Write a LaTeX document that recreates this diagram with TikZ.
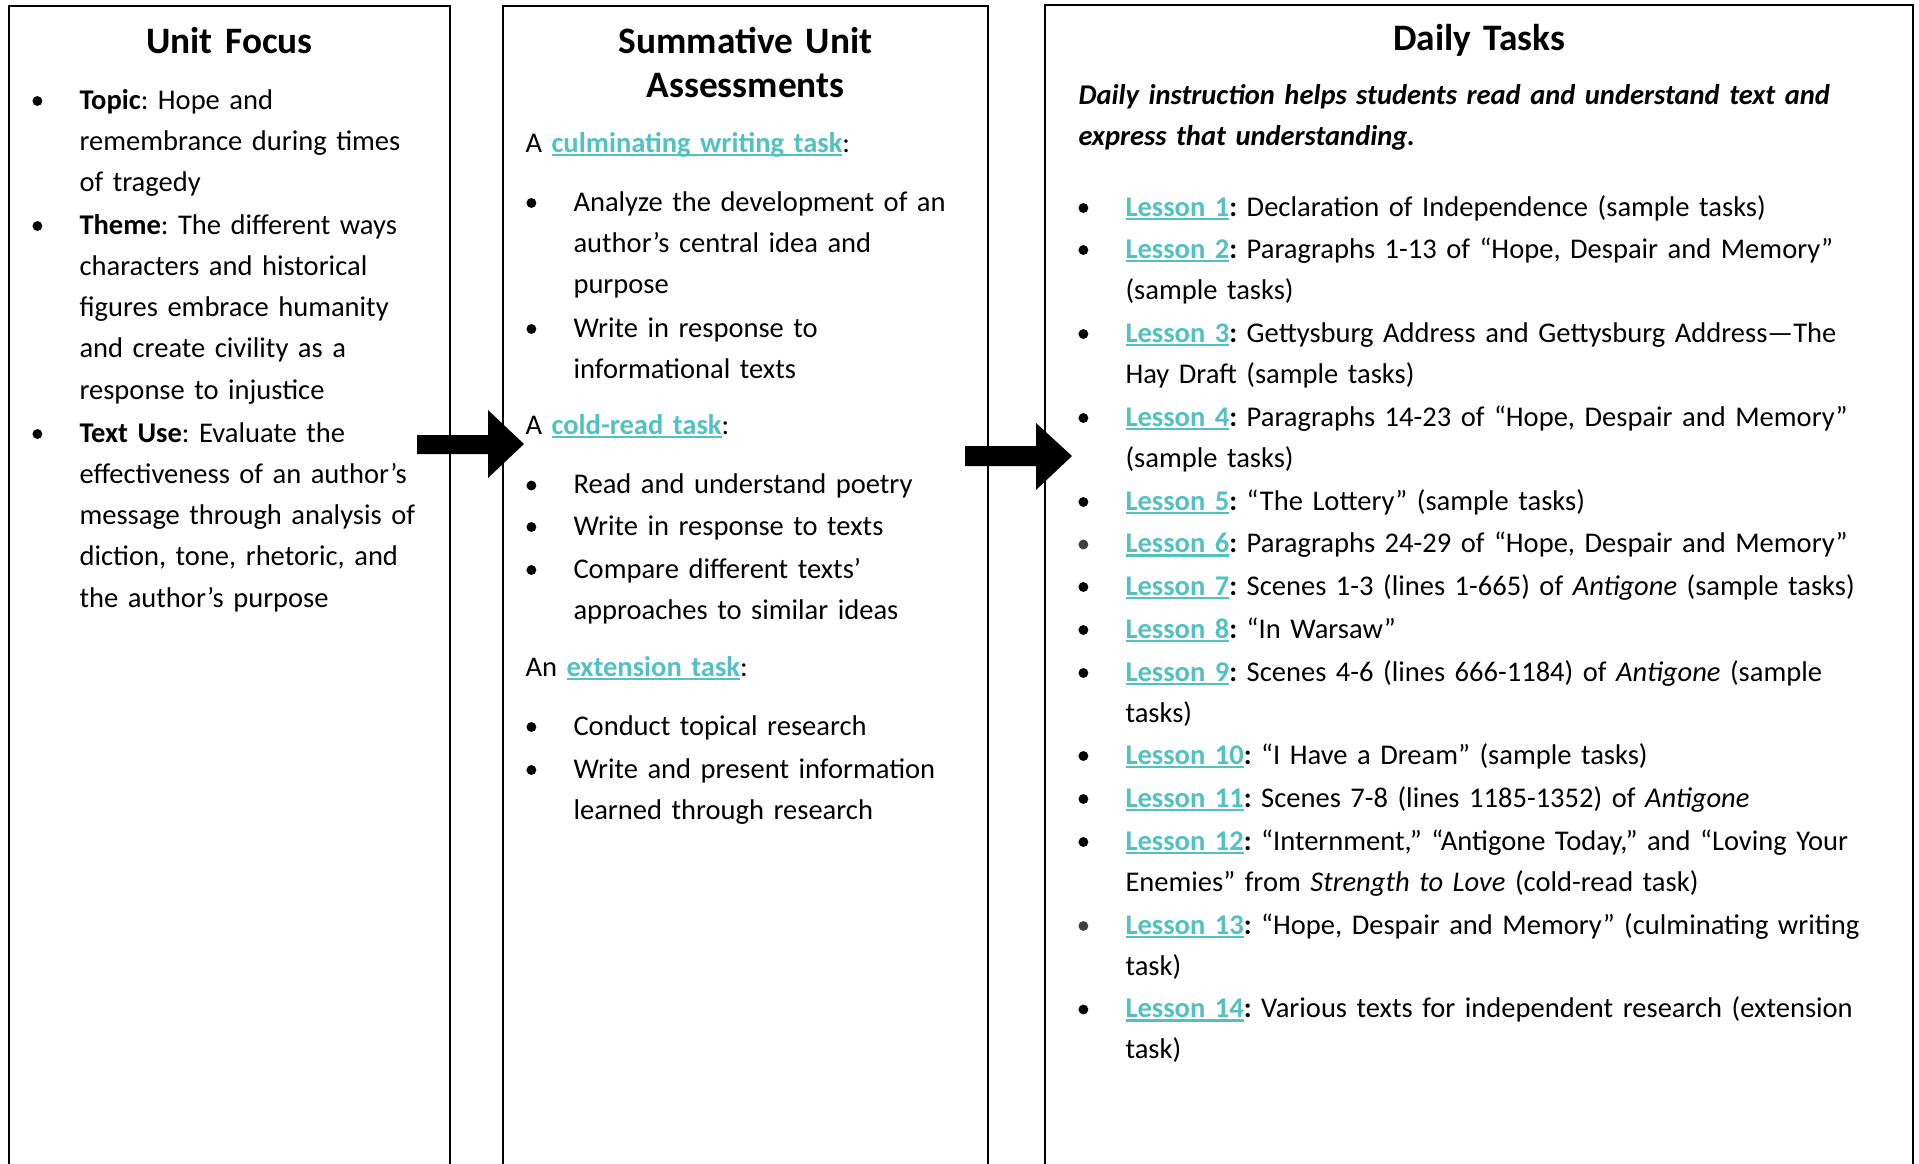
\documentclass[tikz,border=0pt]{standalone}
\usepackage{fontspec}
\setmainfont{Carlito}
\frenchspacing

\definecolor{linkc}{RGB}{84,193,193}
% teal bold underlined link text
\newcommand{\lnk}[1]{{\color{linkc}\bfseries\setbox0=\hbox{#1}\rlap{\rule[-0.14em]{\wd0}{0.075em}}\box0}}
\newcommand{\lsn}[1]{\lnk{Lesson #1}\textbf{:}}
% round bullet in front of a list item (y axis is flipped, so up is negative)
\newcommand{\bul}[2][black]{\fill [#1] ([xshift=-15.6pt,yshift=-3pt]#2.base west) circle [radius=1.85pt];}

\tikzset{
  ttl/.style={anchor=base, inner sep=0pt, text width=170pt, align=center, font=\fontsize{14}{16.5}\selectfont\bfseries},
  txt/.style={anchor=base west, inner sep=0pt, text width=300pt, align=left, font=\fontsize{10.7}{15.49}\selectfont},
  lead/.style={txt, font=\fontsize{10.7}{15.2}\selectfont\bfseries\itshape},
  blk/.style={line width=0.75pt},
}

\begin{document}
\begin{tikzpicture}[x=0.375pt,y=0.375pt,yscale=-1]
\useasboundingbox (0,0) rectangle (1919,1164);

%Shape: open boxes
\draw [blk] (9,1170) -- (9,6) -- (450,6) -- (450,1170);
\draw [blk] (503,1170) -- (503,6) -- (988,6) -- (988,1170);
\draw [blk] (1045,1170) -- (1045,5) -- (1913,5) -- (1913,1170);

%Shape: block arrows
\fill (417,435) -- (488,435) -- (488,410) -- (524,444) -- (488,478) -- (488,454) -- (417,454) -- cycle;
\fill (965,446) -- (1036,446) -- (1036,423) -- (1072,456) -- (1036,490) -- (1036,466) -- (965,466) -- cycle;

% Titles
\node [ttl] (uf) at (229.5,53) {Unit Focus};
\node [ttl] (sa) at (745.5,53) {Summative Unit\\Assessments};
\node [ttl] (dt) at (1479,50.5) {Daily Tasks};

% Unit Focus
\node [txt] (tp) at (79,109) {\textbf{Topic}: Hope and\\remembrance during times\\of tragedy};
\node [txt] (th) at (79,234) {\textbf{Theme}: The different ways\\characters and historical\\figures embrace humanity\\and create civility as a\\response to injustice};
\node [txt] (tu) at (79,442) {\textbf{Text Use}: Evaluate the\\effectiveness of an author’s\\message through analysis of\\diction, tone, rhetoric, and\\the author’s purpose};

% Summative Unit Assessments
\node [txt] (cw) at (525,152) {A \lnk{culminating writing task}:};
\node [txt] (a1) at (573,211) {Analyze the development of an\\author’s central idea and\\purpose};
\node [txt] (a2) at (573,337) {Write in response to\\informational texts};
\node [txt] (cr) at (525,434) {A \lnk{cold-read task}:};
\node [txt] (c1) at (573,493.5) {Read and understand poetry};
\node [txt] (c2) at (573,535) {Write in response to texts};
\node [txt] (c3) at (573,578) {Compare different texts’\\approaches to similar ideas};
\node [txt] (ex) at (525,676) {An \lnk{extension task}:};
\node [txt] (e1) at (573,735) {Conduct topical research};
\node [txt] (e2) at (573,778) {Write and present information\\learned through research};

% Daily Tasks
\node [lead] (di) at (1078,104.5) {Daily instruction helps students read and understand text and\\express that understanding.};
\node [txt] (l1) at (1125,216) {\lsn{1} Declaration of Independence (sample tasks)};
\node [txt] (l2) at (1125,258) {\lsn{2} Paragraphs 1-13 of “Hope, Despair and Memory”\\(sample tasks)};
\node [txt] (l3) at (1125,342) {\lsn{3} Gettysburg Address and Gettysburg Address—The\\Hay Draft (sample tasks)};
\node [txt] (l4) at (1125,426) {\lsn{4} Paragraphs 14-23 of “Hope, Despair and Memory”\\(sample tasks)};
\node [txt] (l5) at (1125,510) {\lsn{5} “The Lottery” (sample tasks)};
\node [txt] (l6) at (1125,552.5) {\lsn{6} Paragraphs 24-29 of “Hope, Despair and Memory”};
\node [txt] (l7) at (1125,595) {\lsn{7} Scenes 1-3 (lines 1-665) of \textit{Antigone} (sample tasks)};
\node [txt] (l8) at (1125,638) {\lsn{8} “In Warsaw”};
\node [txt] (l9) at (1125,681) {\lsn{9} Scenes 4-6 (lines 666-1184) of \textit{Antigone} (sample\\tasks)};
\node [txt] (l10) at (1125,764) {\lsn{10} “I Have a Dream” (sample tasks)};
\node [txt] (l11) at (1125,807) {\lsn{11} Scenes 7-8 (lines 1185-1352) of \textit{Antigone}};
\node [txt] (l12) at (1125,850) {\lsn{12} “Internment,” “Antigone Today,” and “Loving Your\\Enemies” from \textit{Strength to Love} (cold-read task)};
\node [txt] (l13) at (1125,934) {\lsn{13} “Hope, Despair and Memory” (culminating writing\\task)};
\node [txt] (l14) at (1125,1017.5) {\lsn{14} Various texts for independent research (extension\\task)};

% Bullets
\foreach \n in {tp,th,tu,a1,a2,c1,c2,c3,e1,e2,l1,l2,l3,l4,l5,l7,l8,l9,l10,l11,l12,l14}
  \bul{\n};
\foreach \n in {l6,l13}
  \bul[black!75]{\n};

\end{tikzpicture}
\end{document}
